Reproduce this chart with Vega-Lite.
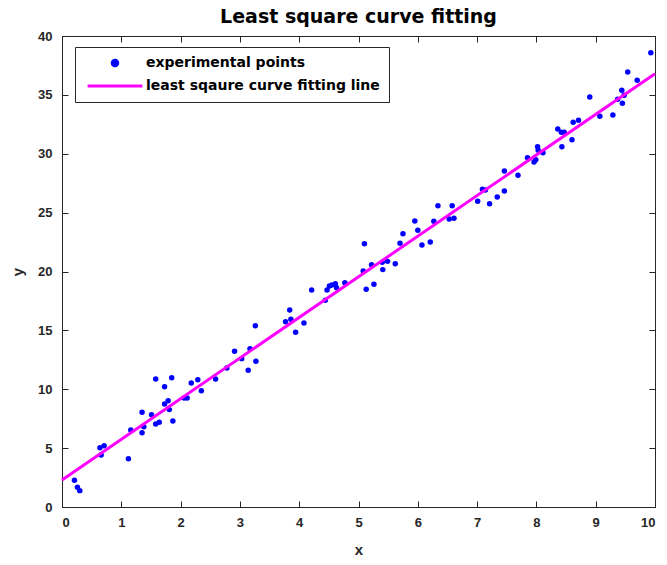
{
  "$schema": "https://vega.github.io/schema/vega-lite/v6.json",
  "autosize": {"type": "none"},
  "padding": {"left": 62, "top": 36, "right": 12, "bottom": 58},
  "width": 593,
  "height": 471,
  "background": "white",
  "title": {"text": "Least square curve fitting", "font": "DejaVu Sans", "fontSize": 19, "fontWeight": "bold", "color": "#000000", "offset": 3, "anchor": "middle"},
  "config": {
    "view": {"stroke": "#262626", "strokeWidth": 1},
    "axis": {"labelFont": "Liberation Sans", "labelFontWeight": "bold", "labelFontSize": 13, "labelColor": "#262626", "domainColor": "#262626", "tickColor": "#262626", "grid": false, "titleFont": "Liberation Sans", "titleFontWeight": "bold", "titleFontSize": 15, "titleColor": "#262626", "tickSize": -6}
  },
  "resolve": {"axis": {"x": "independent", "y": "independent"}},
  "datasets": {
    "pts": [
      {"x":0.21,"y":2.27},{"x":0.26,"y":1.67},{"x":0.30,"y":1.39},{"x":0.64,"y":5.04},{"x":0.66,"y":4.42},{"x":0.71,"y":5.21},{"x":1.12,"y":4.10},{"x":1.16,"y":6.54},{"x":1.35,"y":8.04},{"x":1.35,"y":6.31},{"x":1.38,"y":6.82},{"x":1.51,"y":7.84},{"x":1.58,"y":10.87},{"x":1.58,"y":7.05},{"x":1.64,"y":7.19},{"x":1.73,"y":10.22},{"x":1.73,"y":8.75},{"x":1.79,"y":9.03},{"x":1.81,"y":8.27},{"x":1.85,"y":10.98},{"x":1.87,"y":7.30},{"x":2.06,"y":9.26},{"x":2.11,"y":9.26},{"x":2.18,"y":10.53},{"x":2.29,"y":10.81},{"x":2.35,"y":9.88},{"x":2.59,"y":10.87},{"x":2.78,"y":11.80},{"x":2.91,"y":13.22},{"x":3.03,"y":12.60},{"x":3.14,"y":11.61},{"x":3.17,"y":13.45},{"x":3.27,"y":12.37},{"x":3.26,"y":15.40},{"x":3.77,"y":15.74},{"x":3.84,"y":16.73},{"x":3.86,"y":15.94},{"x":3.94,"y":14.84},{"x":4.08,"y":15.63},{"x":4.21,"y":18.43},{"x":4.44,"y":17.55},{"x":4.47,"y":18.43},{"x":4.51,"y":18.77},{"x":4.55,"y":18.85},{"x":4.61,"y":18.96},{"x":4.63,"y":18.62},{"x":4.77,"y":19.05},{"x":5.10,"y":22.36},{"x":5.08,"y":20.04},{"x":5.13,"y":18.49},{"x":5.22,"y":20.58},{"x":5.26,"y":18.91},{"x":5.40,"y":20.78},{"x":5.41,"y":20.16},{"x":5.49,"y":20.86},{"x":5.62,"y":20.66},{"x":5.70,"y":22.39},{"x":5.75,"y":23.21},{"x":5.95,"y":24.29},{"x":6.00,"y":23.50},{"x":6.07,"y":22.25},{"x":6.21,"y":22.51},{"x":6.27,"y":24.26},{"x":6.34,"y":25.59},{"x":6.53,"y":24.46},{"x":6.58,"y":25.59},{"x":6.61,"y":24.52},{"x":7.01,"y":25.96},{"x":7.09,"y":26.98},{"x":7.14,"y":26.92},{"x":7.21,"y":25.76},{"x":7.34,"y":26.33},{"x":7.46,"y":26.84},{"x":7.46,"y":28.54},{"x":7.69,"y":28.17},{"x":7.85,"y":29.67},{"x":7.96,"y":29.30},{"x":7.99,"y":29.50},{"x":8.02,"y":30.60},{"x":8.03,"y":30.29},{"x":8.11,"y":30.09},{"x":8.36,"y":32.10},{"x":8.42,"y":31.82},{"x":8.43,"y":30.60},{"x":8.47,"y":31.82},{"x":8.60,"y":31.19},{"x":8.62,"y":32.67},{"x":8.71,"y":32.84},{"x":8.90,"y":34.82},{"x":9.07,"y":33.18},{"x":9.29,"y":33.29},{"x":9.37,"y":34.62},{"x":9.44,"y":35.39},{"x":9.45,"y":34.28},{"x":9.48,"y":34.96},{"x":9.54,"y":36.94},{"x":9.70,"y":36.24},{"x":9.93,"y":38.58}
    ],
    "fit": [{"x": 0, "y": 2.3}, {"x": 10, "y": 36.8}]
  },
  "layer": [
    {
      "data": {"name": "pts"},
      "mark": {"type": "point", "filled": true, "size": 30, "opacity": 1},
      "encoding": {
        "x": {"field": "x", "type": "quantitative", "scale": {"domain": [0, 10], "nice": false, "zero": false}, "axis": {"orient": "bottom", "values": [0,1,2,3,4,5,6,7,8,9,10], "title": "x", "labelPadding": 15, "titlePadding": 13}},
        "y": {"field": "y", "type": "quantitative", "scale": {"domain": [0, 40], "nice": false}, "axis": {"orient": "left", "values": [0,5,10,15,20,25,30,35,40], "title": "y", "labelPadding": 16, "titlePadding": 12}},
        "color": {"datum": "experimental points", "type": "nominal",
          "scale": {"domain": ["experimental points", "least sqaure curve fitting line"], "range": ["#0000ff", "#ff00ff"]},
          "legend": {
            "title": null, "orient": "none", "legendX": 13, "legendY": 11,
            "direction": "vertical",
            "strokeColor": "#262626", "fillColor": "#ffffff", "padding": 9,
            "labelFont": "DejaVu Sans", "labelFontWeight": "bold", "labelFontSize": 14, "labelColor": "#000000", "labelLimit": 400,
            "symbolSize": 30, "labelOffset": 24, "rowPadding": 7, "symbolOffset": 24,
            "symbolType": {"expr": "datum.value === 'experimental points' ? 'circle' : 'M-10,0L10,0'"},
            "symbolStrokeColor": {"expr": "datum.value === 'experimental points' ? 'transparent' : '#ff00ff'"},
            "symbolStrokeWidth": 3,
            "symbolOpacity": 1
          }}
      }
    },
    {
      "data": {"name": "fit"},
      "mark": {"type": "line", "strokeWidth": 3},
      "encoding": {
        "x": {"field": "x", "type": "quantitative", "axis": {"orient": "top", "values": [0,1,2,3,4,5,6,7,8,9,10], "labels": false, "domain": false, "title": null}},
        "y": {"field": "y", "type": "quantitative", "axis": {"orient": "right", "values": [0,5,10,15,20,25,30,35,40], "labels": false, "domain": false, "title": null}},
        "color": {"datum": "least sqaure curve fitting line", "type": "nominal", "legend": null}
      }
    }
  ]
}
